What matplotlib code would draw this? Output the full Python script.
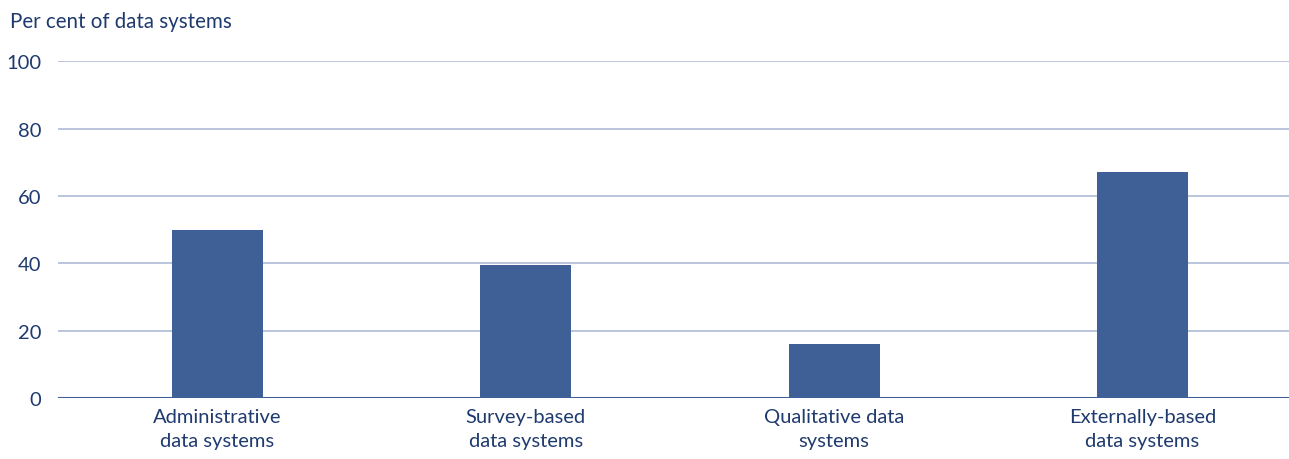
import matplotlib
matplotlib.use('Agg')
import matplotlib.pyplot as plt

categories = ['Administrative\ndata systems', 'Survey-based\ndata systems',
              'Qualitative data\nsystems', 'Externally-based\ndata systems']
values = [50, 39.6, 16, 67.2]
yticks = [0, 20, 40, 60, 80, 100]

bar_color = '#3F6096'
text_color = '#1F3A6E'
grid_color = '#AEBBD8'

plt.rcParams['font.family'] = ['Lato', 'DejaVu Sans']

fig = plt.figure(figsize=(12.89, 4.6), dpi=100)
ax = fig.add_axes([0.045, 0.132, 0.955, 0.733])

x = list(range(len(categories)))
ax.bar(x, values, width=0.295, color=bar_color, zorder=3)

ax.set_xlim(-0.517, 3.475)
ax.set_ylim(0, 100)
ax.set_yticks(yticks)
ax.set_yticklabels([str(t) for t in yticks])
ax.set_xticks(x)
ax.set_xticklabels(categories, linespacing=1.5)

for t in yticks[1:]:
    ax.axhline(t, color=grid_color, lw=1.2, zorder=1)
ax.axhline(0, color=bar_color, lw=1.5, zorder=4)

for s in ax.spines.values():
    s.set_visible(False)
ax.tick_params(axis='both', length=0, labelsize=14.5, colors=text_color)
ax.tick_params(axis='y', pad=12)
ax.tick_params(axis='x', pad=7)

fig.text(0.008, 0.952, 'Per cent of data systems', fontsize=14.8,
         color=text_color, va='center', ha='left')

fig.savefig('out.png', dpi=100)
